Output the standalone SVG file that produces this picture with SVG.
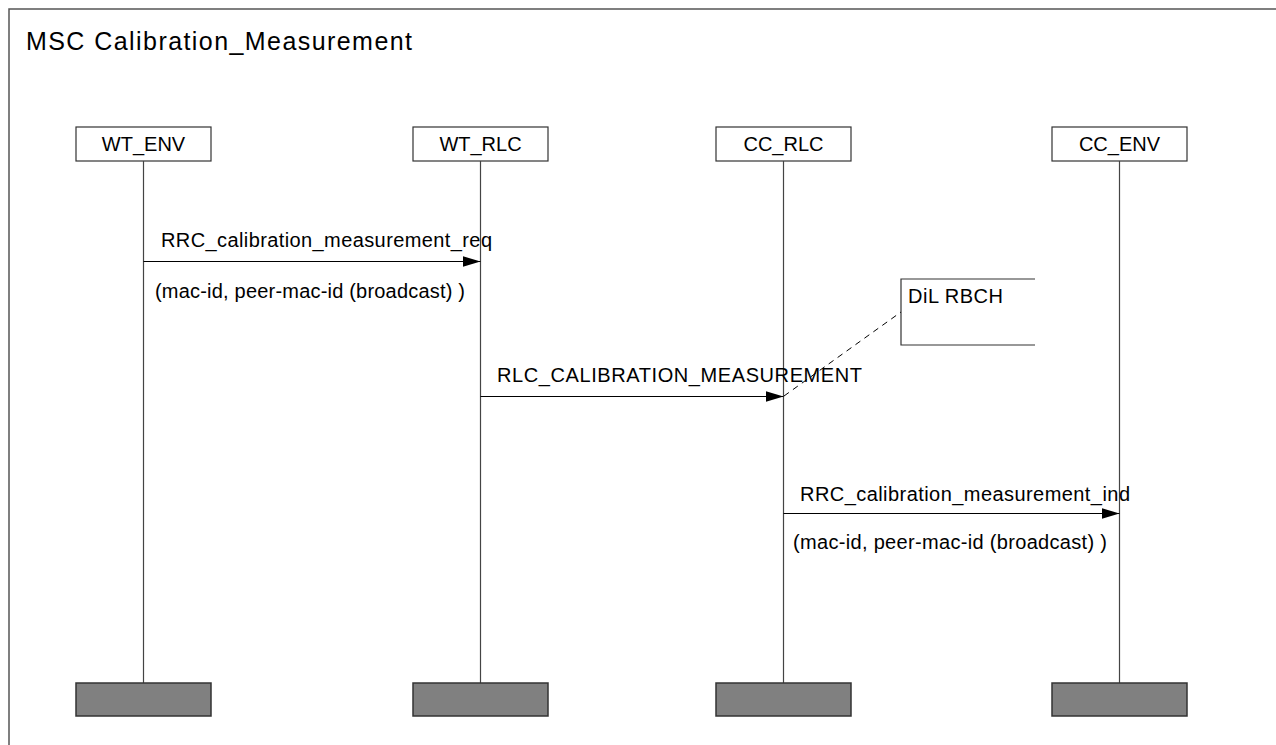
<svg xmlns="http://www.w3.org/2000/svg" width="1276" height="745" viewBox="0 0 1276 745">
<defs>
<marker id="ah" markerWidth="18" markerHeight="11" refX="18" refY="5.5" orient="auto" markerUnits="userSpaceOnUse">
<path d="M0,0 L18,5.5 L0,11 Z" fill="#000"/>
</marker>
</defs>
<style>
text{font-family:"Liberation Sans",Arial,sans-serif;fill:#000}
.t{font-size:25px}
.l{font-size:20px}
.hd{fill:#fff;stroke:#333;stroke-width:1.2}
.ft{fill:#808080;stroke:#333;stroke-width:1.5}
.ll{stroke:#444;stroke-width:1.2}
.msg{stroke:#000;stroke-width:1.2;fill:none}
</style>
<rect width="1276" height="745" fill="#fff"/>
<rect x="9" y="9" width="1300" height="800" fill="none" stroke="#555" stroke-width="1.5"/>
<text class="t" x="26" y="50" textLength="386">MSC Calibration_Measurement</text>

<g id="WT_ENV">
<rect class="hd" x="76" y="127" width="135" height="34"/>
<text class="l" x="143.5" y="151" text-anchor="middle">WT_ENV</text>
<line class="ll" x1="143.5" y1="161" x2="143.5" y2="683"/>
<rect class="ft" x="76" y="683" width="135" height="33"/>
</g>
<g id="WT_RLC">
<rect class="hd" x="413" y="127" width="135" height="34"/>
<text class="l" x="480.5" y="151" text-anchor="middle">WT_RLC</text>
<line class="ll" x1="480.5" y1="161" x2="480.5" y2="683"/>
<rect class="ft" x="413" y="683" width="135" height="33"/>
</g>
<g id="CC_RLC">
<rect class="hd" x="716" y="127" width="135" height="34"/>
<text class="l" x="783.5" y="151" text-anchor="middle">CC_RLC</text>
<line class="ll" x1="783.5" y1="161" x2="783.5" y2="683"/>
<rect class="ft" x="716" y="683" width="135" height="33"/>
</g>
<g id="CC_ENV">
<rect class="hd" x="1052" y="127" width="135" height="34"/>
<text class="l" x="1119.5" y="151" text-anchor="middle">CC_ENV</text>
<line class="ll" x1="1119.5" y1="161" x2="1119.5" y2="683"/>
<rect class="ft" x="1052" y="683" width="135" height="33"/>
</g>

<g id="note">
<path d="M1035,279 L901,279 L901,345 L1035,345" fill="#fff" stroke="#333" stroke-width="1.2"/>
<text class="l" x="908" y="303" textLength="95">DiL RBCH</text>
</g>

<g id="connectors">
<line class="msg" x1="143.5" y1="261.5" x2="480.5" y2="261.5" marker-end="url(#ah)"/>
<text class="l" x="161" y="247" textLength="331">RRC_calibration_measurement_req</text>
<text class="l" x="155" y="298" textLength="310">(mac-id, peer-mac-id (broadcast) )</text>

<line class="msg" x1="480.5" y1="396.5" x2="783.5" y2="396.5" marker-end="url(#ah)"/>
<text class="l" x="497" y="382" textLength="365">RLC_CALIBRATION_MEASUREMENT</text>

<line class="msg" x1="783.5" y1="513.5" x2="1119.5" y2="513.5" marker-end="url(#ah)"/>
<text class="l" x="800" y="501" textLength="330">RRC_calibration_measurement_ind</text>
<text class="l" x="793" y="549" textLength="314">(mac-id, peer-mac-id (broadcast) )</text>

<line x1="784" y1="396" x2="901" y2="312" stroke="#000" stroke-width="1" stroke-dasharray="6,5"/>
</g>
</svg>
